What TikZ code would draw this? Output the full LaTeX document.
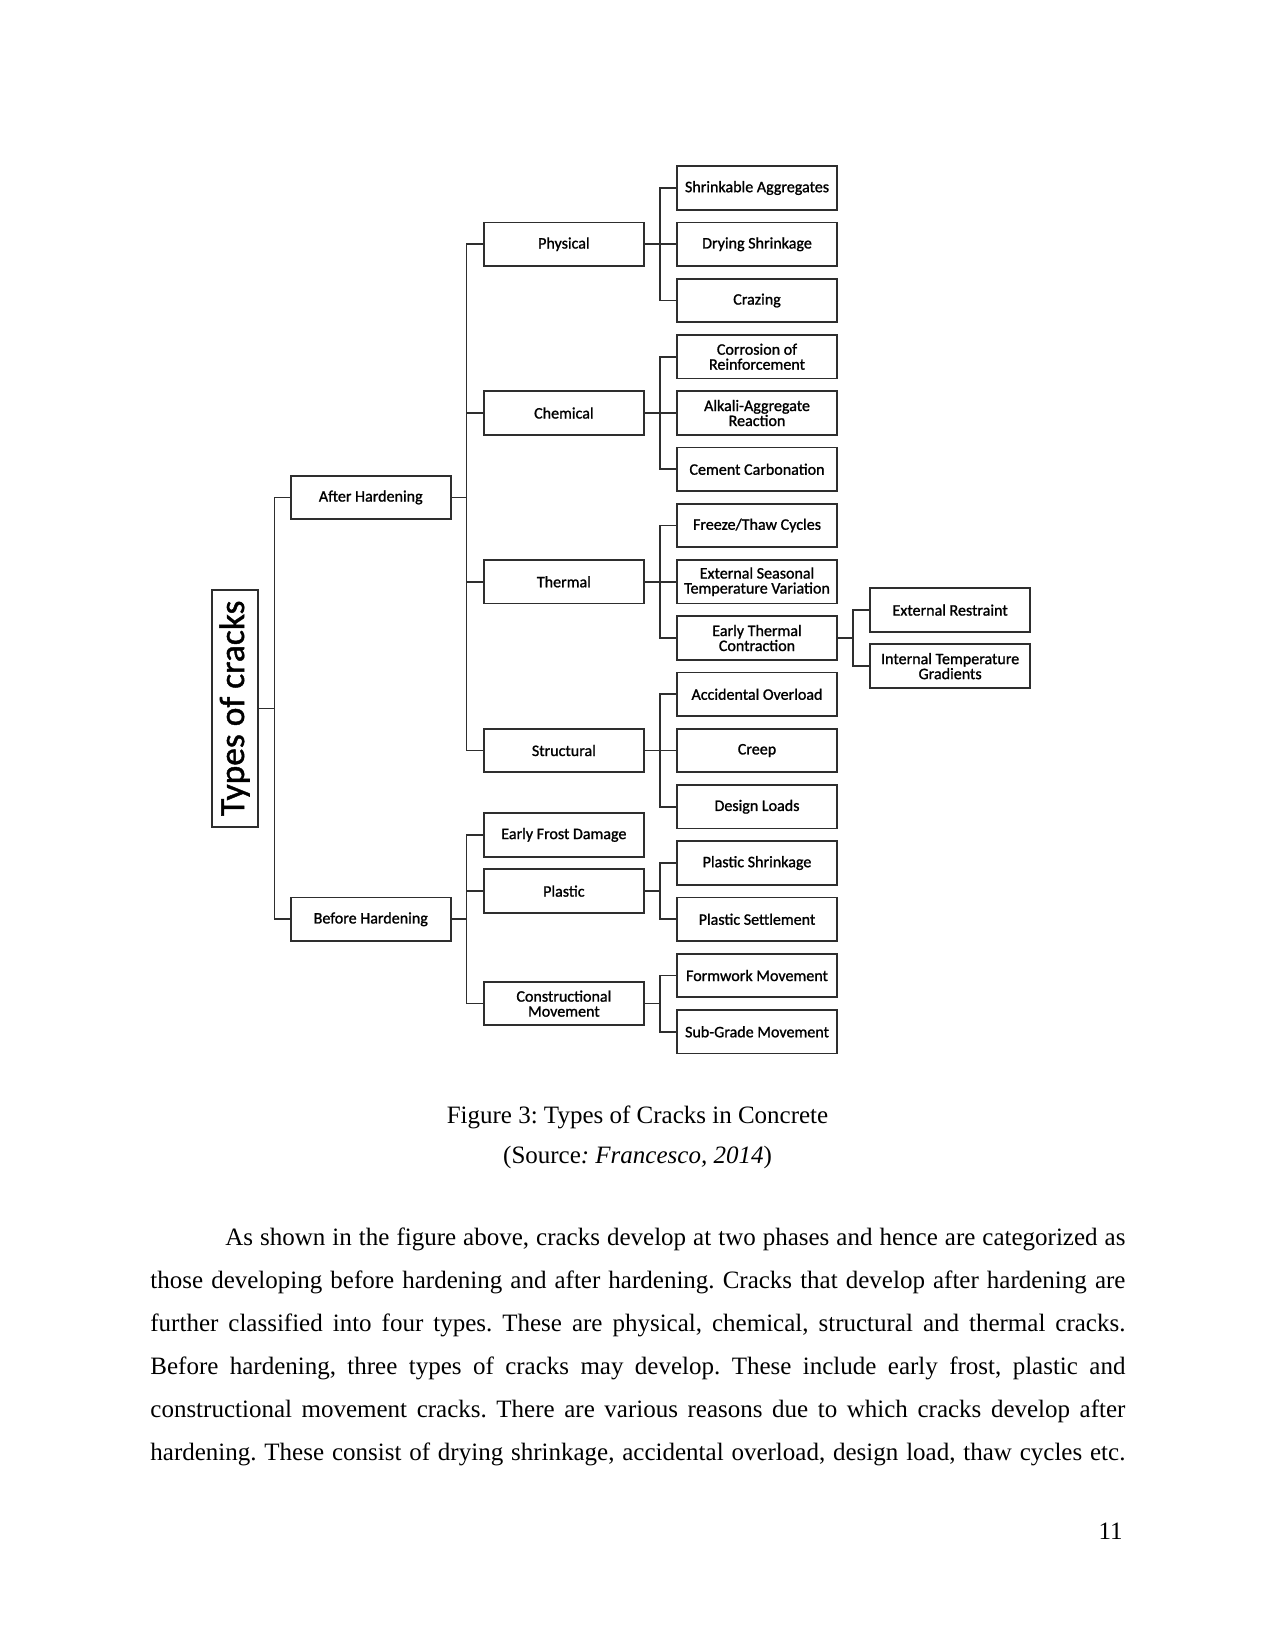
\documentclass[tikz,border=0pt]{standalone}
\usepackage{fontspec}
\setmainfont{Liberation Serif}
\newfontfamily\calfont[FakeBold=1.2]{Carlito}
\frenchspacing
\usepackage{tikz}
\usetikzlibrary{positioning,calc}
\definecolor{edge}{HTML}{2E2E2E}

\begin{document}
\begin{tikzpicture}[x=0.48pt,y=-0.48pt,
  node distance=5.2pt and 15pt,
  box/.style={draw=edge,line width=0.9pt,align=center,inner sep=1pt,minimum width=76.8pt,minimum height=20.9pt,font=\calfont\fontsize{7.7}{7.2}\selectfont},
  link/.style={draw=edge,line width=0.75pt},
  body/.style={anchor=base west,inner sep=0pt,font=\fontsize{12}{14}\selectfont}]
  \useasboundingbox (0,0) rectangle (1275,1650);
  % causes
  \node[box] (shrink) at (757,188) {Shrinkable Aggregates};
  \node[box,below=of shrink] (drying) {Drying Shrinkage};
  \node[box,below=of drying] (crazing) {Crazing};
  \node[box,below=of crazing] (corrosion) {Corrosion of\\Reinforcement};
  \node[box,below=of corrosion] (alkali) {Alkali-Aggregate\\Reaction};
  \node[box,below=of alkali] (carbon) {Cement Carbonation};
  \node[box,below=of carbon] (freeze) {Freeze/Thaw Cycles};
  \node[box,below=of freeze] (seasonal) {External Seasonal\\Temperature Variation};
  \node[box,below=of seasonal] (earlytc) {Early Thermal\\Contraction};
  \node[box,below=of earlytc] (overload) {Accidental Overload};
  \node[box,below=of overload] (creep) {Creep};
  \node[box,below=of creep] (design) {Design Loads};
  \node[box,below=of design] (plshrink) {Plastic Shrinkage};
  \node[box,below=of plshrink] (plsettle) {Plastic Settlement};
  \node[box,below=of plsettle] (formwork) {Formwork Movement};
  \node[box,below=of formwork] (subgrade) {Sub-Grade Movement};
  % early thermal contraction
  \node[box,right=of earlytc,yshift=13.4pt] (extrest) {External Restraint};
  \node[box,right=of earlytc,yshift=-13.5pt] (intgrad) {Internal Temperature\\Gradients};
  % crack types
  \node[box,left=of drying] (phys) {Physical};
  \node[box,left=of alkali] (chem) {Chemical};
  \node[box,left=of seasonal] (therm) {Thermal};
  \node[box,left=of creep] (struct) {Structural};
  \coordinate (mplast) at ($(plshrink.west)!.5!(plsettle.west)$);
  \node[box,left=of mplast] (plastic) {Plastic};
  \node[box,above=of plastic] (frost) {Early Frost Damage};
  \coordinate (mconstr) at ($(formwork.west)!.5!(subgrade.west)$);
  \node[box,left=of mconstr] (constr) {Constructional\\Movement};
  % phases
  \coordinate (mafter) at ($(chem.west)!.5!(therm.west)$);
  \node[box,left=of mafter] (after) {After Hardening};
  \coordinate (mbefore) at ($(frost.west)!.5!(constr.west)$);
  \node[box,left=of mbefore] (before) {Before Hardening};
  \coordinate (mroot) at ($(after.west)!.5!(before.west)$);
  \node[box,left=of mroot,minimum width=22.1pt,minimum height=113.6pt,inner sep=0pt,font=\calfont\fontsize{17}{20}\selectfont] (types) {\rotatebox{90}{Types of cracks}};

  \draw[link] (types.east) -- ++(16,0) |- (after.west);
  \draw[link] (types.east) -- ++(16,0) |- (before.west);
  \draw[link] (after.east) -- ++(15,0) |- (phys.west);
  \draw[link] (after.east) -- ++(15,0) |- (chem.west);
  \draw[link] (after.east) -- ++(15,0) |- (therm.west);
  \draw[link] (after.east) -- ++(15,0) |- (struct.west);
  \draw[link] (before.east) -- ++(15,0) |- (frost.west);
  \draw[link] (before.east) -- ++(15,0) |- (plastic.west);
  \draw[link] (before.east) -- ++(15,0) |- (constr.west);
  \draw[link] (phys.east) -- ++(15,0) |- (shrink.west);
  \draw[link] (phys.east) -- (drying.west);
  \draw[link] (phys.east) -- ++(15,0) |- (crazing.west);
  \draw[link] (chem.east) -- ++(15,0) |- (corrosion.west);
  \draw[link] (chem.east) -- (alkali.west);
  \draw[link] (chem.east) -- ++(15,0) |- (carbon.west);
  \draw[link] (therm.east) -- ++(15,0) |- (freeze.west);
  \draw[link] (therm.east) -- (seasonal.west);
  \draw[link] (therm.east) -- ++(15,0) |- (earlytc.west);
  \draw[link] (struct.east) -- ++(15,0) |- (overload.west);
  \draw[link] (struct.east) -- (creep.west);
  \draw[link] (struct.east) -- ++(15,0) |- (design.west);
  \draw[link] (plastic.east) -- ++(15,0) |- (plshrink.west);
  \draw[link] (plastic.east) -- ++(15,0) |- (plsettle.west);
  \draw[link] (constr.east) -- ++(15,0) |- (formwork.west);
  \draw[link] (constr.east) -- ++(15,0) |- (subgrade.west);
  \draw[link] (earlytc.east) -- ++(15,0) |- (extrest.west);
  \draw[link] (earlytc.east) -- ++(15,0) |- (intgrad.west);

  % caption and text
  \node[body,anchor=base] (cap) at (637.5,1123) {Figure 3: Types of Cracks in Concrete};
  \node[body,anchor=base] (src) at (637.5,1163) {(Source\textit{: Francesco, 2014})};
  \node[body] (l1) at (225,1245) {\makebox[432pt][s]{As shown in the figure above, cracks develop at two phases and hence are categorized as}};
  \node[body] (l2) at (150,1288) {\makebox[468pt][s]{those developing before hardening and after hardening. Cracks that develop after hardening are}};
  \node[body] (l3) at (150,1331) {\makebox[468pt][s]{further classified into four types. These are physical, chemical, structural and thermal cracks.}};
  \node[body] (l4) at (150,1374) {\makebox[468pt][s]{Before hardening, three types of cracks may develop. These include early frost, plastic and}};
  \node[body] (l5) at (150,1417) {\makebox[468pt][s]{constructional movement cracks. There are various reasons due to which cracks develop after}};
  \node[body] (l6) at (150,1460) {\makebox[468pt][s]{hardening. These consist of drying shrinkage, accidental overload, design load, thaw cycles etc.}};
  \node[body,anchor=base east] (pageno) at (1123,1539) {11};
\end{tikzpicture}
\end{document}
